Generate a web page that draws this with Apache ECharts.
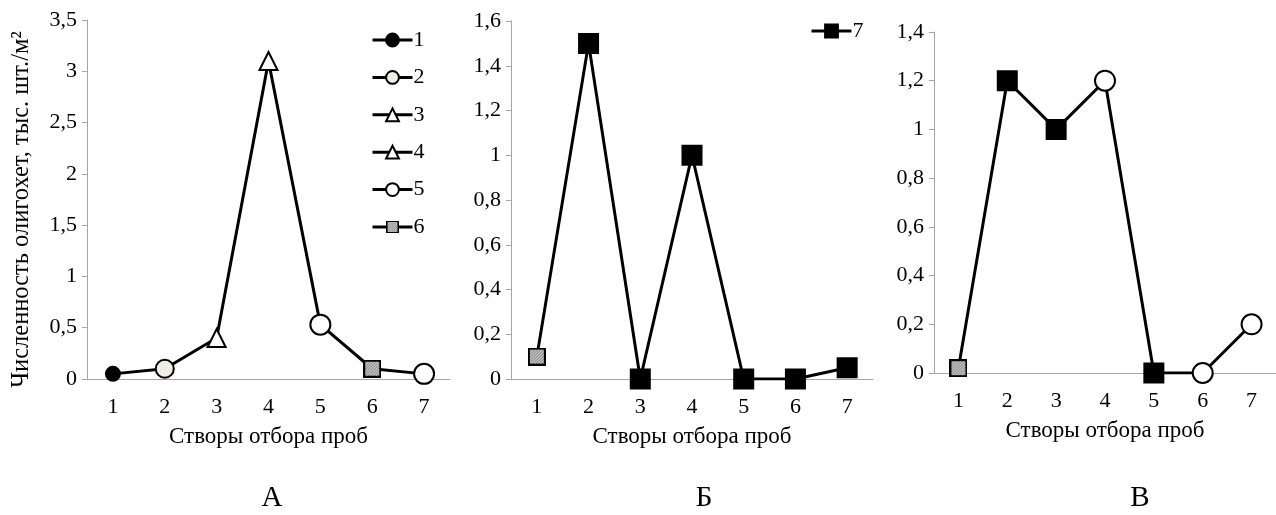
<!DOCTYPE html>
<html lang="ru">
<head>
    <meta charset="UTF-8">
    <title>Олигохеты</title>
    <style>
        html, body { margin: 0; padding: 0; background: #fff; }
        #chart { width: 1276px; height: 515px; }
    </style>
</head>
<body>
    <div id="chart"></div>
    <script src="https://cdn.jsdelivr.net/npm/echarts@6/dist/echarts.min.js"></script>
    <script>
        var categories = ['1', '2', '3', '4', '5', '6', '7'];

        // panel A
        var valuesA = [0.05, 0.1, 0.4, 3.1, 0.53, 0.1, 0.05];
        var typesA = [1, 2, 3, 4, 5, 6, 5];
        // panel Б
        var valuesB = [0.1, 1.5, 0, 1, 0, 0, 0.05];
        var typesB = [6, 7, 7, 7, 7, 7, 7];
        // panel В
        var valuesC = [0.02, 1.2, 1, 1.2, 0, 0, 0.2];
        var typesC = [6, 7, 7, 5, 7, 5, 5];

        var legendA = ['1', '2', '3', '4', '5', '6'];
        var legendB = ['7'];
        var panelLetters = ['А', 'Б', 'В'];

        var FONT = '"Liberation Serif", "Times New Roman", serif';

        // hatched square marker for type 6, drawn at 2x
        var hatch = document.createElement('canvas');
        hatch.width = 36;
        hatch.height = 36;
        var hctx = hatch.getContext('2d');
        hctx.fillStyle = '#f0f0f0';
        hctx.fillRect(0, 0, 36, 36);
        hctx.strokeStyle = '#666';
        hctx.lineWidth = 2;
        hctx.beginPath();
        for (var k = -36; k < 72; k += 6) {
            hctx.moveTo(k, 36);
            hctx.lineTo(k + 36, 0);
        }
        hctx.stroke();
        hctx.strokeStyle = '#000';
        hctx.lineWidth = 4;
        hctx.strokeRect(2, 2, 32, 32);
        var hatchSymbol = 'image://' + hatch.toDataURL();

        var styles = {
            1: { symbol: 'circle', size: 14, color: '#000' },
            2: { symbol: 'circle', size: 18, color: '#eeeee2' },
            3: { symbol: 'triangle', size: 18, color: '#fff' },
            4: { symbol: 'triangle', size: 18, color: '#fff' },
            5: { symbol: 'circle', size: 20, color: '#fff' },
            6: { symbol: hatchSymbol, size: 18, color: '#ddd' },
            7: { symbol: 'rect', size: 19, color: '#000' }
        };

        function pointData(values, types) {
            return values.map(function (v, i) {
                var s = styles[types[i]];
                return {
                    value: v,
                    symbol: s.symbol,
                    symbolSize: s.size,
                    itemStyle: { color: s.color, borderColor: '#000', borderWidth: 2, opacity: 1 }
                };
            });
        }

        function fmt(v) {
            return String(Math.round(v * 10) / 10).replace('.', ',');
        }

        var grids = [
            { left: 87, top: 20, width: 363, height: 359 },
            { left: 511, top: 21, width: 362, height: 358 },
            { left: 934, top: 32, width: 345, height: 341 }
        ];
        var yMax = [3.5, 1.6, 1.4];
        var yStep = [0.5, 0.2, 0.2];

        var xAxes = grids.map(function (g, i) {
            return {
                type: 'category',
                gridIndex: i,
                data: categories,
                boundaryGap: true,
                name: 'Створы отбора проб',
                nameLocation: 'middle',
                nameGap: 46,
                nameTextStyle: { color: '#000', fontFamily: FONT, fontSize: 23 },
                axisLine: { lineStyle: { color: '#a6a6a6', width: 1 } },
                axisTick: { length: 5, lineStyle: { color: '#a6a6a6' } },
                axisLabel: { color: '#000', fontFamily: FONT, fontSize: 22, margin: 17 }
            };
        });

        var yAxes = grids.map(function (g, i) {
            return {
                type: 'value',
                gridIndex: i,
                min: 0,
                max: yMax[i],
                interval: yStep[i],
                name: i === 0 ? 'Численность олигохет, тыс. шт./м²' : '',
                nameLocation: 'middle',
                nameGap: 53,
                nameRotate: 90,
                nameTextStyle: { color: '#000', fontFamily: FONT, fontSize: 24.5, padding: [0, 20, 0, 0] },
                splitLine: { show: false },
                axisLine: { show: true, lineStyle: { color: '#a6a6a6', width: 1 } },
                axisTick: { show: true, length: 5, lineStyle: { color: '#a6a6a6' } },
                axisLabel: { color: '#000', fontFamily: FONT, fontSize: 22, margin: 10, formatter: fmt }
            };
        });

        var lineStyle = { color: '#000', width: 3 };

        var series = [
            { name: 'A', type: 'line', xAxisIndex: 0, yAxisIndex: 0, data: pointData(valuesA, typesA), lineStyle: lineStyle, itemStyle: { color: '#000' } },
            { name: 'Б', type: 'line', xAxisIndex: 1, yAxisIndex: 1, data: pointData(valuesB, typesB), lineStyle: lineStyle, itemStyle: { color: '#000' } },
            { name: 'В', type: 'line', xAxisIndex: 2, yAxisIndex: 2, data: pointData(valuesC, typesC), lineStyle: lineStyle, itemStyle: { color: '#000' } }
        ];

        // legend-only series
        legendA.concat(legendB).forEach(function (n) {
            var s = styles[n];
            series.push({
                name: n,
                type: 'line',
                xAxisIndex: n === '7' ? 1 : 0,
                yAxisIndex: n === '7' ? 1 : 0,
                data: [],
                symbol: s.symbol,
                symbolSize: 14,
                lineStyle: lineStyle,
                itemStyle: { color: s.color, borderColor: '#000', borderWidth: 2 }
            });
        });

        var legendCommon = {
            orient: 'vertical',
            itemWidth: 40,
            itemHeight: 16,
            itemGap: 15.4,
            selectedMode: false,
            lineStyle: { width: 3, color: '#000' },
            textStyle: { color: '#000', fontFamily: FONT, fontSize: 22, padding: [0, 0, 0, -4] }
        };

        var chart = echarts.init(document.getElementById('chart'));
        var option = {
            backgroundColor: '#fff',
            animation: false,
            grid: grids,
            xAxis: xAxes,
            yAxis: yAxes,
            legend: [
                Object.assign({ data: legendA, left: 366, top: 24 }, legendCommon),
                Object.assign({ data: legendB, left: 805, top: 15 }, legendCommon)
            ],
            graphic: panelLetters.map(function (t, i) {
                return {
                    type: 'text',
                    x: [272, 704, 1140][i],
                    y: 484,
                    style: { text: t, fontFamily: FONT, fontSize: 29, fill: '#000', align: 'center', verticalAlign: 'top' }
                };
            }),
            series: series
        };
        chart.setOption(option);
    </script>
</body>
</html>
